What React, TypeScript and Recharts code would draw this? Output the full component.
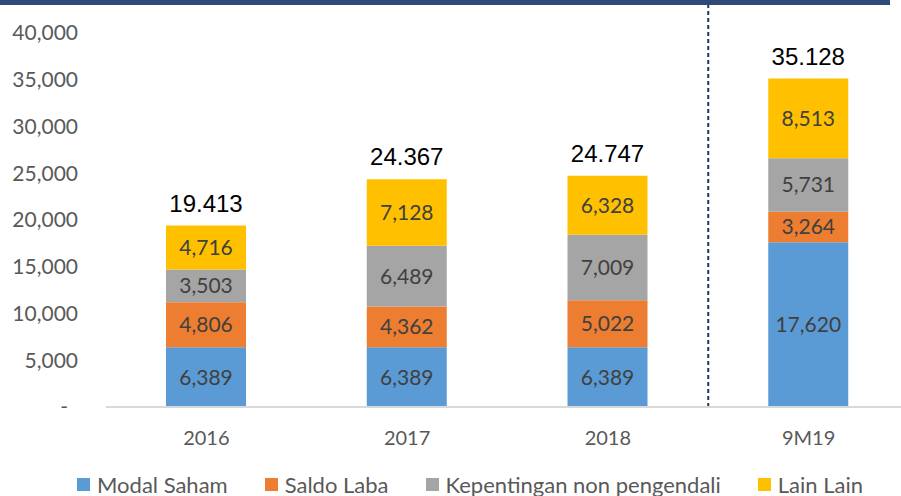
import React from 'react';
import { BarChart, Bar, XAxis, YAxis, LabelList, Legend, ReferenceLine } from 'recharts';

const categories = ['2016', '2017', '2018', '9M19'];
const modalSaham = [6389, 6389, 6389, 17620];
const saldoLaba = [4806, 4362, 5022, 3264];
const kepentingan = [3503, 6489, 7009, 5731];
const lainLain = [4716, 7128, 6328, 8513];
const totalLabels = ['19.413', '24.367', '24.747', '35.128'];
const yTicks = [0, 5000, 10000, 15000, 20000, 25000, 30000, 35000, 40000];
const seriesNames = ['Modal Saham', 'Saldo Laba', 'Kepentingan non pengendali', 'Lain Lain'];
const seriesColors = ['#5B9BD5', '#ED7D31', '#A5A5A5', '#FFC000'];

const data = categories.map((c, i) => ({
  name: c,
  modal: modalSaham[i],
  saldo: saldoLaba[i],
  kep: kepentingan[i],
  lain: lainLain[i],
}));

const FONT = 'Lato, "Open Sans", sans-serif';
const fmt = (v: any) => Number(v).toLocaleString('en-US');

const YTick = (props: any) => {
  const { x, y, payload } = props;
  const v = payload.value;
  return (
    <text x={v === 0 ? x - 10 : x} y={y} dy="0.35em" textAnchor="end" fill="#595959" fontSize={21} fontFamily={FONT}>
      {v === 0 ? '-' : fmt(v)}
    </text>
  );
};

const TotalLabel = (props: any) => {
  const { x, y, width, index } = props;
  return (
    <text x={x + width / 2} y={y - 14} textAnchor="middle" fill="#000000" fontSize={24} fontFamily='"Liberation Sans", Arial, sans-serif'>
      {totalLabels[index]}
    </text>
  );
};

const LegendContent = () => (
  <div style={{ display: 'flex', paddingLeft: 77, alignItems: 'center', fontFamily: FONT, fontSize: 22, color: '#595959', height: 24 }}>
    {seriesNames.map((n, i) => (
      <div key={n} style={{ display: 'flex', alignItems: 'center', marginRight: 37 }}>
        <div style={{ width: 13, height: 13, background: seriesColors[i], marginRight: 7 }} />
        <span style={{ whiteSpace: 'nowrap' }}>{n}</span>
      </div>
    ))}
  </div>
);

const labelStyle = { fill: '#404040', fontSize: 21, fontFamily: FONT };

export default function App() {
  return (
    <div style={{ position: 'absolute', left: 0, top: 0, width: 901, height: 496, overflow: 'hidden', background: '#fff' }}>
      <BarChart width={909} height={496} data={data} margin={{ top: 5, right: 0, bottom: 0, left: 0 }}>
        <XAxis
          dataKey="name"
          axisLine={{ stroke: '#D9D9D9', strokeWidth: 2 }}
          tickLine={false}
          tickSize={0}
          tickMargin={24}
          height={65}
          tick={{ fill: '#595959', fontSize: 20, fontFamily: FONT }}
        />
        <YAxis
          domain={[0, 43000]}
          ticks={yTicks}
          axisLine={false}
          tickLine={false}
          tickSize={0}
          tickMargin={28}
          width={106}
          tick={<YTick />}
          interval={0}
        />
        <ReferenceLine x="9M19" position="start" stroke="#1F3864" strokeWidth={2} strokeDasharray="4 3" />
        <Bar dataKey="modal" name={seriesNames[0]} stackId="a" fill={seriesColors[0]} barSize={80} isAnimationActive={false}>
          <LabelList dataKey="modal" position="center" formatter={fmt} style={labelStyle} />
        </Bar>
        <Bar dataKey="saldo" name={seriesNames[1]} stackId="a" fill={seriesColors[1]} barSize={80} isAnimationActive={false}>
          <LabelList dataKey="saldo" position="center" formatter={fmt} style={labelStyle} />
        </Bar>
        <Bar dataKey="kep" name={seriesNames[2]} stackId="a" fill={seriesColors[2]} barSize={80} isAnimationActive={false}>
          <LabelList dataKey="kep" position="center" formatter={fmt} style={labelStyle} />
        </Bar>
        <Bar dataKey="lain" name={seriesNames[3]} stackId="a" fill={seriesColors[3]} barSize={80} isAnimationActive={false}>
          <LabelList dataKey="lain" position="center" formatter={fmt} style={labelStyle} />
          <LabelList dataKey="lain" content={<TotalLabel />} />
        </Bar>
        <Legend verticalAlign="bottom" content={<LegendContent />} wrapperStyle={{ height: 24, bottom: 0 }} />
      </BarChart>
      <div style={{ position: 'absolute', left: 0, top: 0, width: 890, height: 5, background: '#2F4A78' }} />
    </div>
  );
}
